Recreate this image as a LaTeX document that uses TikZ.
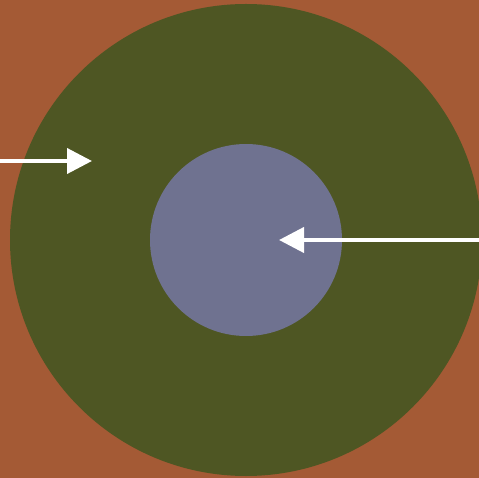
\documentclass[tikz,border=0pt]{standalone}
\usetikzlibrary{arrows.meta}
\definecolor{bgbrown}{HTML}{A45A35}
\definecolor{outergreen}{HTML}{4E5623}
\definecolor{innerblue}{HTML}{6F7290}
\tikzset{
  disc/.style={circle, inner sep=0pt, outer sep=0pt, draw=none},
  whitearrow/.style={draw=white, line width=4pt, -{Triangle[length=25pt,width=25pt,fill=white]}}
}
\begin{document}
\begin{tikzpicture}[x=1pt,y=-1pt]
  \fill[bgbrown] (0,0) rectangle (479,478);
  \useasboundingbox (0,0) rectangle (479,478);
  \node[disc, fill=outergreen, minimum size=472pt] (outer) at (246,240) {};
  \node[disc, fill=innerblue, minimum size=192pt] (inner) at (246,240) {};
  \coordinate (lstart) at (0,161);
  \coordinate (lend) at (92,161);
  \coordinate (rstart) at (479,240);
  \coordinate (rend) at (279,240);
  \draw[whitearrow] (lstart) -- (lend);
  \draw[whitearrow] (rstart) -- (rend);
\end{tikzpicture}
\end{document}
